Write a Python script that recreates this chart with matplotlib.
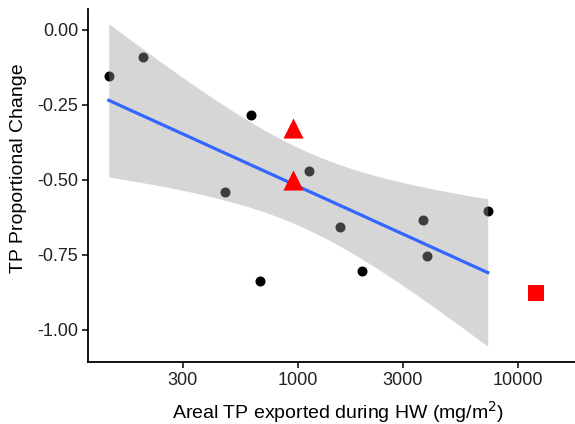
import matplotlib
matplotlib.use("Agg")
import matplotlib.pyplot as plt
import numpy as np

plt.rcParams['font.family'] = ['Liberation Sans', 'DejaVu Sans']

# ---- data ----
# sites used in the fit (black points)
export_x = [138, 197, 611, 465, 671, 1129, 1554, 1955, 3703, 3862, 7300]
change_y = [-0.153, -0.09, -0.283, -0.54, -0.837, -0.47, -0.657, -0.803, -0.633, -0.753, -0.603]
# highlighted sites
tri_x = [949, 949]
tri_y = [-0.327, -0.50]
sq_x = [12078]
sq_y = [-0.877]

xticks = [300, 1000, 3000, 10000]
xticklabels = ["300", "1000", "3000", "10000"]
yticks = [0.0, -0.25, -0.5, -0.75, -1.0]
yticklabels = ["0.00", "-0.25", "-0.50", "-0.75", "-1.00"]

# ---- linear fit on log10(x), 95% CI like geom_smooth(method='lm') ----
lx = np.log10(export_x)
y = np.array(change_y)
n = len(lx)
b, a = np.polyfit(lx, y, 1)
resid = y - (a + b * lx)
s = np.sqrt(np.sum(resid ** 2) / (n - 2))
sxx = np.sum((lx - lx.mean()) ** 2)
tq = 2.262  # t(0.975, df=9)
gx = np.linspace(lx.min(), lx.max(), 80)
gy = a + b * gx
se = s * np.sqrt(1.0 / n + (gx - lx.mean()) ** 2 / sxx)

fig = plt.figure(figsize=(5.75, 4.24), dpi=100)
ax = fig.add_axes([0.153, 0.146, 0.847, 0.833])

ax.scatter(export_x, change_y, s=52, color='black', zorder=2, linewidths=0)
ax.fill_between(10 ** gx, gy - tq * se, gy + tq * se, color='#999999', alpha=0.4,
                linewidth=0, zorder=3)
ax.plot(10 ** gx, gy, color='#3366FF', lw=2.3, zorder=4)
ax.scatter(tri_x, tri_y, s=210, marker='^', color='red', zorder=5, linewidths=0)
ax.scatter(sq_x, sq_y, s=118, marker='s', color='red', zorder=5, linewidths=0)

ax.set_xscale('log')
ax.set_xlim(111, 18200)
ax.set_ylim(-1.107, 0.07)
ax.set_xticks(xticks)
ax.set_xticklabels(xticklabels)
ax.minorticks_off()
ax.set_yticks(yticks)
ax.set_yticklabels(yticklabels)

for side in ['top', 'right']:
    ax.spines[side].set_visible(False)
for side in ['left', 'bottom']:
    ax.spines[side].set_linewidth(1.3)
ax.tick_params(axis='both', length=4, width=1.1, labelsize=13, labelcolor='#222222', pad=3)

fig.text(338 / 575, 1 - 412 / 424, "Areal TP exported during HW (mg/m$^2$)",
         fontsize=14, ha='center', va='center')
fig.text(19 / 575, 1 - 168 / 424, "TP Proportional Change",
         fontsize=14, rotation=90, ha='center', va='center')

fig.savefig('out.png', dpi=100)
